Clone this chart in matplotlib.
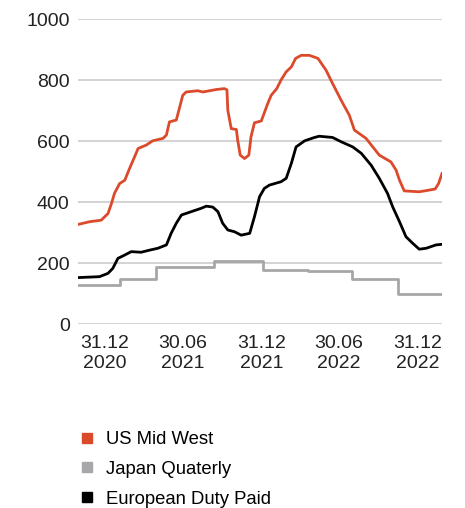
import matplotlib
matplotlib.use("Agg")
import matplotlib.pyplot as plt
from matplotlib.lines import Line2D
import numpy as np

plt.rcParams['font.family'] = ['Liberation Sans', 'DejaVu Sans']

# US Mid West premium
us_dates = ["2020-10-30", "2020-11-26", "2020-12-23", "2021-01-08", "2021-01-16",
            "2021-01-23", "2021-02-04", "2021-02-16", "2021-02-27", "2021-03-11",
            "2021-03-19", "2021-04-07", "2021-04-22", "2021-05-16", "2021-05-24",
            "2021-05-31", "2021-06-16", "2021-06-24", "2021-07-01", "2021-07-09",
            "2021-08-05", "2021-08-17", "2021-09-17", "2021-10-06", "2021-10-12",
            "2021-10-14", "2021-10-22", "2021-11-03", "2021-11-06", "2021-11-12",
            "2021-11-22", "2021-12-02", "2021-12-07", "2021-12-15", "2021-12-31",
            "2022-01-15", "2022-01-23", "2022-02-05", "2022-02-15", "2022-02-27",
            "2022-03-11", "2022-03-21", "2022-04-03", "2022-04-22", "2022-05-12",
            "2022-05-31", "2022-06-15", "2022-07-05", "2022-07-24", "2022-08-05",
            "2022-09-01", "2022-10-02", "2022-10-29", "2022-11-10", "2022-11-18",
            "2022-11-29", "2023-01-03", "2023-02-09", "2023-02-17", "2023-02-25"]
us_values = [327, 336, 341, 363, 396, 429, 461, 472, 510, 549,
             576, 587, 601, 609, 620, 663, 669, 712, 750, 761,
             765, 761, 769, 772, 768, 701, 641, 638, 603, 554,
             543, 554, 614, 660, 666, 723, 750, 772, 800, 827,
             843, 871, 881, 881, 871, 832, 789, 734, 685, 636,
             609, 554, 532, 505, 472, 437, 434, 443, 461, 494]

# Japan quarterly premium (step changes)
jp_dates = ["2020-10-30", "2021-02-05", "2021-04-30", "2021-09-11", "2022-01-03",
            "2022-04-18", "2022-07-30", "2022-11-14", "2023-02-25"]
jp_values = [130, 150, 187, 207, 178, 173, 148, 100, 100]

# European duty paid premium
eu_dates = ["2020-10-30", "2020-12-19", "2021-01-08", "2021-01-19", "2021-01-31",
            "2021-02-16", "2021-03-03", "2021-03-26", "2021-04-15", "2021-05-04",
            "2021-05-24", "2021-06-04", "2021-06-16", "2021-06-28", "2021-07-21",
            "2021-08-13", "2021-08-25", "2021-09-09", "2021-09-21", "2021-10-02",
            "2021-10-14", "2021-10-30", "2021-11-14", "2021-12-04", "2021-12-15",
            "2021-12-27", "2022-01-07", "2022-01-19", "2022-02-15", "2022-02-27",
            "2022-03-11", "2022-03-22", "2022-04-11", "2022-05-04", "2022-05-15",
            "2022-06-15", "2022-07-05", "2022-08-01", "2022-08-21", "2022-09-13",
            "2022-10-02", "2022-10-21", "2022-11-02", "2022-11-18", "2022-12-03",
            "2022-12-19", "2023-01-03", "2023-01-19", "2023-02-11", "2023-02-25"]
eu_values = [153, 156, 167, 183, 216, 227, 238, 236, 243, 249,
             260, 298, 331, 358, 369, 380, 387, 384, 369, 331,
             309, 303, 292, 298, 352, 418, 445, 456, 467, 478,
             527, 581, 601, 612, 616, 612, 598, 581, 560, 521,
             478, 429, 385, 336, 287, 265, 246, 249, 260, 262]

tick_dates = ["2020-12-31", "2021-06-30", "2021-12-31", "2022-06-30", "2022-12-31"]
tick_labels = ["31.12\n2020", "30.06\n2021", "31.12\n2021", "30.06\n2022", "31.12\n2022"]
y_ticks = [0, 200, 400, 600, 800, 1000]

series_names = ["US Mid West", "Japan Quaterly", "European Duty Paid"]
colors = ["#dc4a2c", "#a7a7a9", "#000000"]

to_dt = lambda s: np.array(s, dtype="datetime64[D]")

fig = plt.figure(figsize=(4.65, 5.08), dpi=100)
ax = fig.add_axes([78 / 465, (508 - 324.3) / 508, (442 - 78) / 465, (324.3 - 19) / 508])

ax.step(to_dt(jp_dates), jp_values, where="post", color=colors[1], lw=2.0, zorder=3)
ax.plot(to_dt(eu_dates), eu_values, color=colors[2], lw=2.0, zorder=4)
ax.plot(to_dt(us_dates), us_values, color=colors[0], lw=2.0, zorder=5)

ax.set_xlim(to_dt(us_dates)[0], to_dt(us_dates)[-1])
ax.set_ylim(0, 1000)
ax.set_yticks(y_ticks)
ax.set_xticks(to_dt(tick_dates))
ax.set_xticklabels(tick_labels, linespacing=1.2)
ax.tick_params(axis="both", length=0, labelsize=14, colors="#222222")
ax.tick_params(axis="y", pad=6)
ax.tick_params(axis="x", pad=8)
ax.grid(axis="y", color="#cccccc", lw=1.2)
ax.set_axisbelow(True)
for sp in ax.spines.values():
    sp.set_visible(False)

handles = [Line2D([], [], ls="none", marker="s", markersize=7.5,
                  markerfacecolor=c, markeredgecolor=c) for c in colors]
fig.legend(handles, series_names, loc="upper left",
           bbox_to_anchor=(80 / 465, 1 - 431 / 508), frameon=False,
           fontsize=13.3, handlelength=0.8, handletextpad=0.6,
           labelspacing=0.7, borderaxespad=0, borderpad=0)

fig.savefig("out.png", dpi=100)
